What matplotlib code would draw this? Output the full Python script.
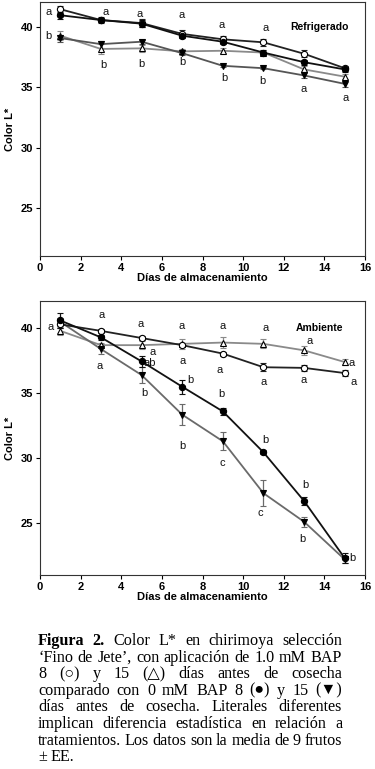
import matplotlib
matplotlib.use("Agg")
import matplotlib.pyplot as plt

plt.rcParams['font.family'] = ['Liberation Sans', 'DejaVu Sans']

# storage days
days = [1, 3, 5, 7, 9, 11, 13, 15]

# Refrigerado panel
ref_open_circ = [41.5, 40.6, 40.35, 39.45, 39.0, 38.75, 37.8, 36.6]
ref_open_circ_err = [0.3, 0.25, 0.35, 0.3, 0.3, 0.3, 0.3, 0.2]
ref_fill_circ = [41.0, 40.6, 40.3, 39.3, 38.8, 37.9, 37.1, 36.5]
ref_fill_circ_err = [0.3, 0.2, 0.3, 0.2, 0.2, 0.2, 0.2, 0.2]
ref_open_tri = [39.3, 38.2, 38.25, 38.0, 38.05, 37.9, 36.5, 35.9]
ref_open_tri_err = [0.35, 0.4, 0.3, 0.2, 0.2, 0.2, 0.3, 0.2]
ref_fill_tri = [39.1, 38.6, 38.8, 37.85, 36.8, 36.6, 36.0, 35.3]
ref_fill_tri_err = [0.3, 0.3, 0.15, 0.15, 0.1, 0.1, 0.25, 0.3]

# Ambiente panel
amb_open_circ = [40.3, 39.8, 39.25, 38.7, 38.05, 37.0, 36.95, 36.55]
amb_open_circ_err = [0.3, 0.15, 0.15, 0.15, 0.15, 0.3, 0.25, 0.2]
amb_open_tri = [39.8, 38.7, 38.7, 38.8, 38.9, 38.8, 38.3, 37.4]
amb_open_tri_err = [0.3, 0.2, 0.3, 0.4, 0.4, 0.35, 0.35, 0.2]
amb_fill_circ = [40.6, 39.3, 37.45, 35.5, 33.6, 30.45, 26.7, 22.3]
amb_fill_circ_err = [0.6, 0.2, 0.4, 0.55, 0.25, 0.15, 0.3, 0.4]
amb_fill_tri = [40.5, 38.4, 36.4, 33.35, 31.3, 27.3, 25.1, 22.2]
amb_fill_tri_err = [0.3, 0.4, 0.6, 0.8, 0.7, 1.0, 0.4, 0.3]

# significance letters (day, L*, letter)
ref_letter_x = [0.4, 0.4, 3.25, 3.1, 4.9, 5.0, 6.97, 7.0, 8.95, 9.1, 11.1, 10.95, 12.97, 15.05]
ref_letter_y = [41.3, 39.3, 41.3, 36.9, 41.1, 36.95, 41.0, 37.15, 40.15, 35.75, 39.9, 35.5, 34.9, 34.15]
ref_letters = ['a', 'b', 'a', 'b', 'a', 'b', 'a', 'b', 'a', 'b', 'a', 'b', 'a', 'a']

amb_letter_x = [0.5, 3.04, 2.92, 4.93, 5.55, 5.4, 5.14, 6.97, 7.0, 7.38, 7.0, 9.0, 8.86, 8.95, 8.99,
                11.1, 11.0, 11.08, 10.83, 13.0, 13.26, 13.05, 12.9, 15.36, 15.43, 15.36]
amb_letter_y = [40.1, 41.05, 37.1, 40.3, 38.2, 37.3, 35.0, 40.2, 37.5, 36.0, 30.9, 40.2, 36.75, 34.95, 29.6,
                40.0, 35.85, 31.4, 25.8, 36.0, 39.0, 27.9, 23.8, 37.3, 35.9, 22.3]
amb_letters = ['a', 'a', 'a', 'a', 'a', 'ab', 'b', 'a', 'a', 'b', 'b', 'a', 'a', 'b', 'c',
               'a', 'a', 'b', 'c', 'a', 'a', 'b', 'b', 'a', 'a', 'b']

caption_lines = [
    "Figura 2. Color L* en chirimoya selección",
    "‘Fino de Jete’, con aplicación de 1.0 mM BAP",
    "8 (○) y 15 (△) días antes de cosecha",
    "comparado con 0 mM BAP 8 (●) y 15 (▼)",
    "días antes de cosecha. Literales diferentes",
    "implican diferencia estadística en relación a",
    "tratamientos. Los datos son la media de 9 frutos",
    "± EE.",
]

W, H = 375, 769
fig = plt.figure(figsize=(W / 100, H / 100), dpi=100)


def px_axes(left, top, right, bottom):
    return fig.add_axes([left / W, 1 - bottom / H, (right - left) / W, (bottom - top) / H])


def draw_panel(ax, series, lx, ly, letters, title):
    for y, err, mk, face, col, ms in series:
        ax.errorbar(days, y, yerr=err, color=col, lw=1.3, marker=mk, ms=ms,
                    mfc=face, mec='black', mew=0.8, ecolor=col, elinewidth=0.9,
                    capsize=2.5, capthick=0.9, zorder=3)
    for x, y, t in zip(lx, ly, letters):
        ax.text(x, y, t, fontsize=8, ha='center', va='center', color='#111111')
    ax.text(0.86, 0.90, title, transform=ax.transAxes, fontsize=7.5,
            fontweight='bold', ha='center', va='center')
    ax.set_xlim(0, 16)
    ax.set_ylim(21, 42.1)
    ax.set_xticks(range(0, 17, 2))
    ax.set_yticks([25, 30, 35, 40])
    ax.tick_params(labelsize=8, length=3, width=0.8, pad=2)
    for lab in ax.get_xticklabels() + ax.get_yticklabels():
        lab.set_fontweight('bold')
    for s in ax.spines.values():
        s.set_linewidth(0.8)
        s.set_color('#333333')
    ax.set_xlabel('Días de almacenamiento', fontsize=8, fontweight='bold', labelpad=0)
    ax.set_ylabel('Color L*', fontsize=8, fontweight='bold', labelpad=4)


ax1 = px_axes(40, 2, 365, 256)
draw_panel(ax1, [
    (ref_open_tri, ref_open_tri_err, '^', 'white', '#8a8a8a', 4.5),
    (ref_fill_tri, ref_fill_tri_err, 'v', 'black', '#555555', 4.5),
    (ref_open_circ, ref_open_circ_err, 'o', 'white', '#222222', 4.5),
    (ref_fill_circ, ref_fill_circ_err, 'o', 'black', '#111111', 4.5),
], ref_letter_x, ref_letter_y, ref_letters, 'Refrigerado')

ax2 = px_axes(40, 301, 365, 575)
draw_panel(ax2, [
    (amb_open_tri, amb_open_tri_err, '^', 'white', '#8a8a8a', 4.5),
    (amb_fill_tri, amb_fill_tri_err, 'v', 'black', '#6a6a6a', 4.5),
    (amb_open_circ, amb_open_circ_err, 'o', 'white', '#222222', 4.5),
    (amb_fill_circ, amb_fill_circ_err, 'o', 'black', '#111111', 4.5),
], amb_letter_x, amb_letter_y, amb_letters, 'Ambiente')

# justified caption
renderer = fig.canvas.get_renderer()
cap_left, cap_right = 38, 342
cap_y0, cap_dy = 641, 16.6
serif = ['Liberation Serif', 'DejaVu Sans']
for i, line in enumerate(caption_lines):
    y = 1 - (cap_y0 + i * cap_dy) / H
    words = line.split(' ')
    texts = []
    for j, w in enumerate(words):
        bold = i == 0 and j < 2
        t = fig.text(0, y, w, fontsize=11.6, family=serif, va='center', ha='left',
                     fontweight='bold' if bold else 'normal')
        texts.append(t)
    widths = [t.get_window_extent(renderer).width for t in texts]
    last = i == len(caption_lines) - 1
    if last or len(words) == 1:
        gap = 4
    else:
        gap = max(3.0, (cap_right - cap_left - sum(widths)) / (len(words) - 1))
    x = cap_left
    for t, w in zip(texts, widths):
        t.set_x(x / W)
        x += w + gap

fig.savefig('out.png', dpi=100)
